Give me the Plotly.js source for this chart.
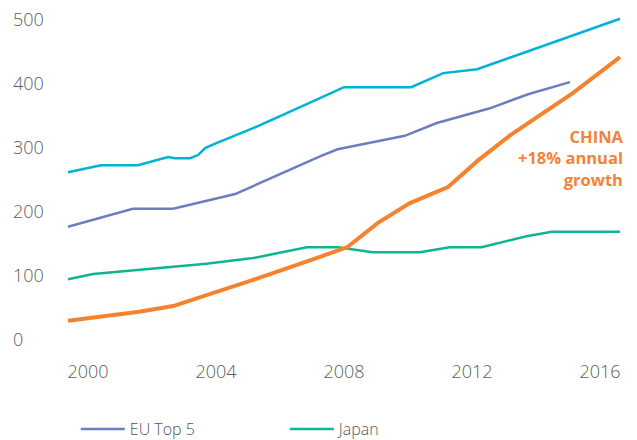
<!DOCTYPE html>
<html>
<head>
<meta charset="utf-8">
<script src="https://cdn.plot.ly/plotly-3.0.1.min.js"></script>
<style>html,body{margin:0;padding:0;background:#fff;}#chart{width:637px;height:440px;}</style>
</head>
<body>
<div id="chart"></div>
<script>
// Cyan series (top line)
var usYears = [1999.375, 2000.41, 2001.56, 2002.5, 2002.72, 2003.19, 2003.44, 2003.66, 2004.03, 2004.75, 2005.16, 2007.25, 2008.0, 2010.1, 2011.1, 2012.16, 2016.625];
var usValues = [262, 273, 273, 286, 284, 284, 289, 300, 308, 322, 331, 378, 395, 395, 417, 423, 502];

// EU Top 5
var euYears = [1999.375, 2001.4, 2002.66, 2004.6, 2007.25, 2007.8, 2009.9, 2010.9, 2012.56, 2013.75, 2015.06];
var euValues = [177, 205, 205, 228, 287, 298, 319, 339, 362, 384, 403];

// Japan
var jpYears = [1999.375, 2000.16, 2003.7, 2005.16, 2006.84, 2007.8, 2008.9, 2010.375, 2011.3, 2012.3, 2013.7, 2014.5, 2016.625];
var jpValues = [95, 103, 119, 128, 145, 145, 137, 137, 145, 145, 162, 169, 169];

// China
var cnYears = [1999.375, 2000.375, 2001.6, 2002.66, 2003.7, 2005.16, 2007.25, 2008.1, 2009.06, 2010.06, 2011.25, 2012.2, 2013.2, 2015.16, 2016.625];
var cnValues = [30, 36, 44, 53, 70, 94, 130, 145, 183, 214, 239, 281, 320, 386, 442];

var xTicks = [2000, 2004, 2008, 2012, 2016];
var yTicks = [0, 100, 200, 300, 400, 500];
var annoText = "CHINA<br>+18% annual<br>growth";

var traces = [
  {x: usYears, y: usValues, name: "US", mode: "lines", showlegend: false,
   line: {color: "#00B2D6", width: 2.5}},
  {x: euYears, y: euValues, name: "EU Top 5", mode: "lines",
   line: {color: "#6C7EC2", width: 2.5}},
  {x: jpYears, y: jpValues, name: "Japan", mode: "lines",
   line: {color: "#0DB690", width: 2.5}},
  {x: cnYears, y: cnValues, name: "China", mode: "lines", showlegend: false,
   line: {color: "#F5822F", width: 4}}
];

var tickFont = {family: "Open Sans, sans-serif", size: 18, color: "#5c5c5c", weight: 300};

var layout = {
  width: 637, height: 440,
  margin: {l: 10, r: 10, t: 0, b: 88, autoexpand: false},
  paper_bgcolor: "#fff", plot_bgcolor: "#fff",
  font: {family: "Open Sans, sans-serif", color: "#5c5c5c", size: 18},
  showlegend: true,
  legend: {orientation: "h", xref: "container", yref: "container",
           x: 0.119, xanchor: "left", y: 0.025, yanchor: "middle",
           font: {family: "Open Sans, sans-serif", size: 16, color: "#555", weight: 300},
           entrywidth: 150, itemwidth: 44},
  xaxis: {range: [1997.5625, 2016.84375], tickvals: xTicks, ticktext: xTicks.map(String),
          tickfont: tickFont,
          showgrid: false, zeroline: false, showline: false, ticks: "", ticklabelstandoff: 7},
  yaxis: {range: [-18.75, 531.25], tickvals: yTicks, ticktext: yTicks.map(String),
          tickfont: tickFont,
          ticklabelposition: "inside", showgrid: false, zeroline: false, showline: false, ticks: ""},
  annotations: [{
    x: 2016.8, y: 284, xref: "x", yref: "y", text: annoText, showarrow: false,
    xanchor: "right", yanchor: "middle", align: "right",
    font: {family: "Open Sans, sans-serif", size: 16.5, color: "#F5823A", weight: "bold"}
  }]
};

Plotly.newPlot("chart", traces, layout, {displayModeBar: false, staticPlot: true});
</script>
</body>
</html>
